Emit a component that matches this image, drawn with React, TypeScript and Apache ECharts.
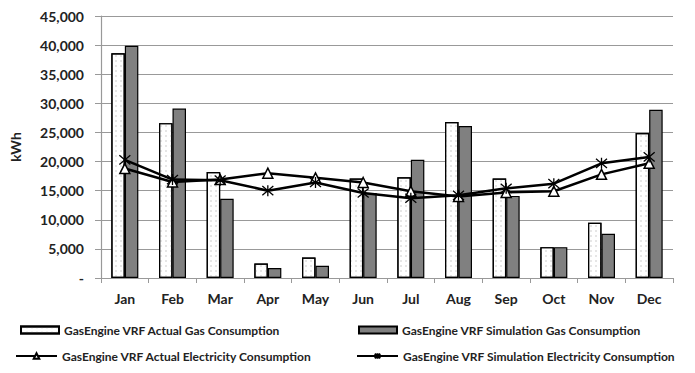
import React, { useEffect, useRef } from "react";
import * as echarts from "echarts";

const months = ["Jan", "Feb", "Mar", "Apr", "May", "Jun", "Jul", "Aug", "Sep", "Oct", "Nov", "Dec"];
const actualGas = [38600, 26600, 18200, 2500, 3500, 17100, 17300, 26800, 17100, 5300, 9500, 24900];
const simGas = [39900, 29100, 13600, 1700, 2100, 14600, 20300, 26100, 14100, 5300, 7600, 28900];
const actualElec = [18800, 16500, 16900, 18000, 17200, 16400, 14900, 14000, 14700, 14900, 17800, 19700];
const simElec = [20300, 16900, 16800, 15000, 16400, 14600, 13700, 14200, 15400, 16200, 19700, 20800];

const names = [
  "GasEngine VRF Actual Gas Consumption",
  "GasEngine VRF Simulation Gas Consumption",
  "GasEngine VRF Actual Electricity Consumption",
  "GasEngine VRF Simulation Electricity Consumption",
];

const FONT = "Lato";
const starPath = "path://M0,0L10,10M10,0L0,10M5,-1L5,11";

export default function App() {
  const ref = useRef<HTMLDivElement>(null);
  useEffect(() => {
    if (!ref.current) return;
    const chart = echarts.init(ref.current, null, { renderer: "svg" });
    const legendText = { fontFamily: FONT, fontSize: 12, fontWeight: "bold", color: "#222" };
    const mkLegend = (name: string, left: number, top: number, isBar: boolean) => ({
      data: isBar ? [{ name, icon: "rect" }] : [name],
      left,
      top,
      itemWidth: isBar ? 38 : 41,
      itemHeight: isBar ? 7 : 7,
      itemGap: 4,
      padding: 0,
      textStyle: legendText,
      selectedMode: false,
    });
    chart.setOption({
      animation: false,
      backgroundColor: "#fff",
      grid: { left: 99, right: 22, top: 16, bottom: 95, containLabel: false },
      legend: [
        mkLegend(names[0], 20, 324, true),
        mkLegend(names[1], 358, 324, true),
        mkLegend(names[2], 15, 350, false),
        mkLegend(names[3], 356, 350, false),
      ],
      xAxis: {
        type: "category",
        data: months,
        axisLine: { show: true, lineStyle: { color: "#999", width: 1.2 } },
        axisTick: { show: true, length: 5, lineStyle: { color: "#999" } },
        axisLabel: { fontFamily: FONT, fontSize: 14, fontWeight: "bold", color: "#222", margin: 13 },
      },
      yAxis: {
        type: "value",
        min: 0,
        max: 45000,
        interval: 5000,
        name: "kWh",
        nameLocation: "middle",
        nameRotate: 90,
        nameGap: 79,
        nameTextStyle: { fontFamily: FONT, fontSize: 14, fontWeight: "bold", color: "#222" },
        axisLine: { show: true, lineStyle: { color: "#999", width: 1.2 } },
        axisTick: { show: true, length: 6, lineStyle: { color: "#999" } },
        splitLine: { show: true, lineStyle: { color: "#999", width: 1.2 } },
        axisLabel: {
          fontFamily: FONT,
          fontSize: 14,
          fontWeight: "bold",
          color: "#222",
          margin: 17,
          formatter: (v: number) => (v === 0 ? "-" : v.toLocaleString("en-US")),
        },
      },
      series: [
        {
          name: names[0],
          type: "bar",
          data: actualGas,
          barWidth: 13.5,
          barGap: "0%",
          itemStyle: {
            color: "#fff",
            borderColor: "#000",
            borderWidth: 1.2,
            decal: {
              symbol: "rect",
              symbolSize: 0.5,
              color: "#999",
              backgroundColor: "#fff",
              dashArrayX: [2, 3],
              dashArrayY: [2, 3],
            },
          },
        },
        {
          name: names[1],
          type: "bar",
          data: simGas,
          barWidth: 13.5,
          barGap: "0%",
          itemStyle: { color: "#808080", borderColor: "#000", borderWidth: 1.2 },
        },
        {
          name: names[2],
          type: "line",
          data: actualElec,
          symbol: "triangle",
          symbolSize: 10,
          lineStyle: { color: "#000", width: 2.5 },
          itemStyle: { color: "#fff", borderColor: "#000", borderWidth: 1.5 },
          z: 3,
        },
        {
          name: names[3],
          type: "line",
          data: simElec,
          symbol: starPath,
          symbolSize: 11,
          lineStyle: { color: "#000", width: 2.5 },
          itemStyle: { color: "transparent", borderColor: "#000", borderWidth: 1.3 },
          z: 4,
        },
      ],
    });
    return () => chart.dispose();
  }, []);
  return <div ref={ref} style={{ width: 695, height: 373, position: "absolute", left: 0, top: 0 }} />;
}
